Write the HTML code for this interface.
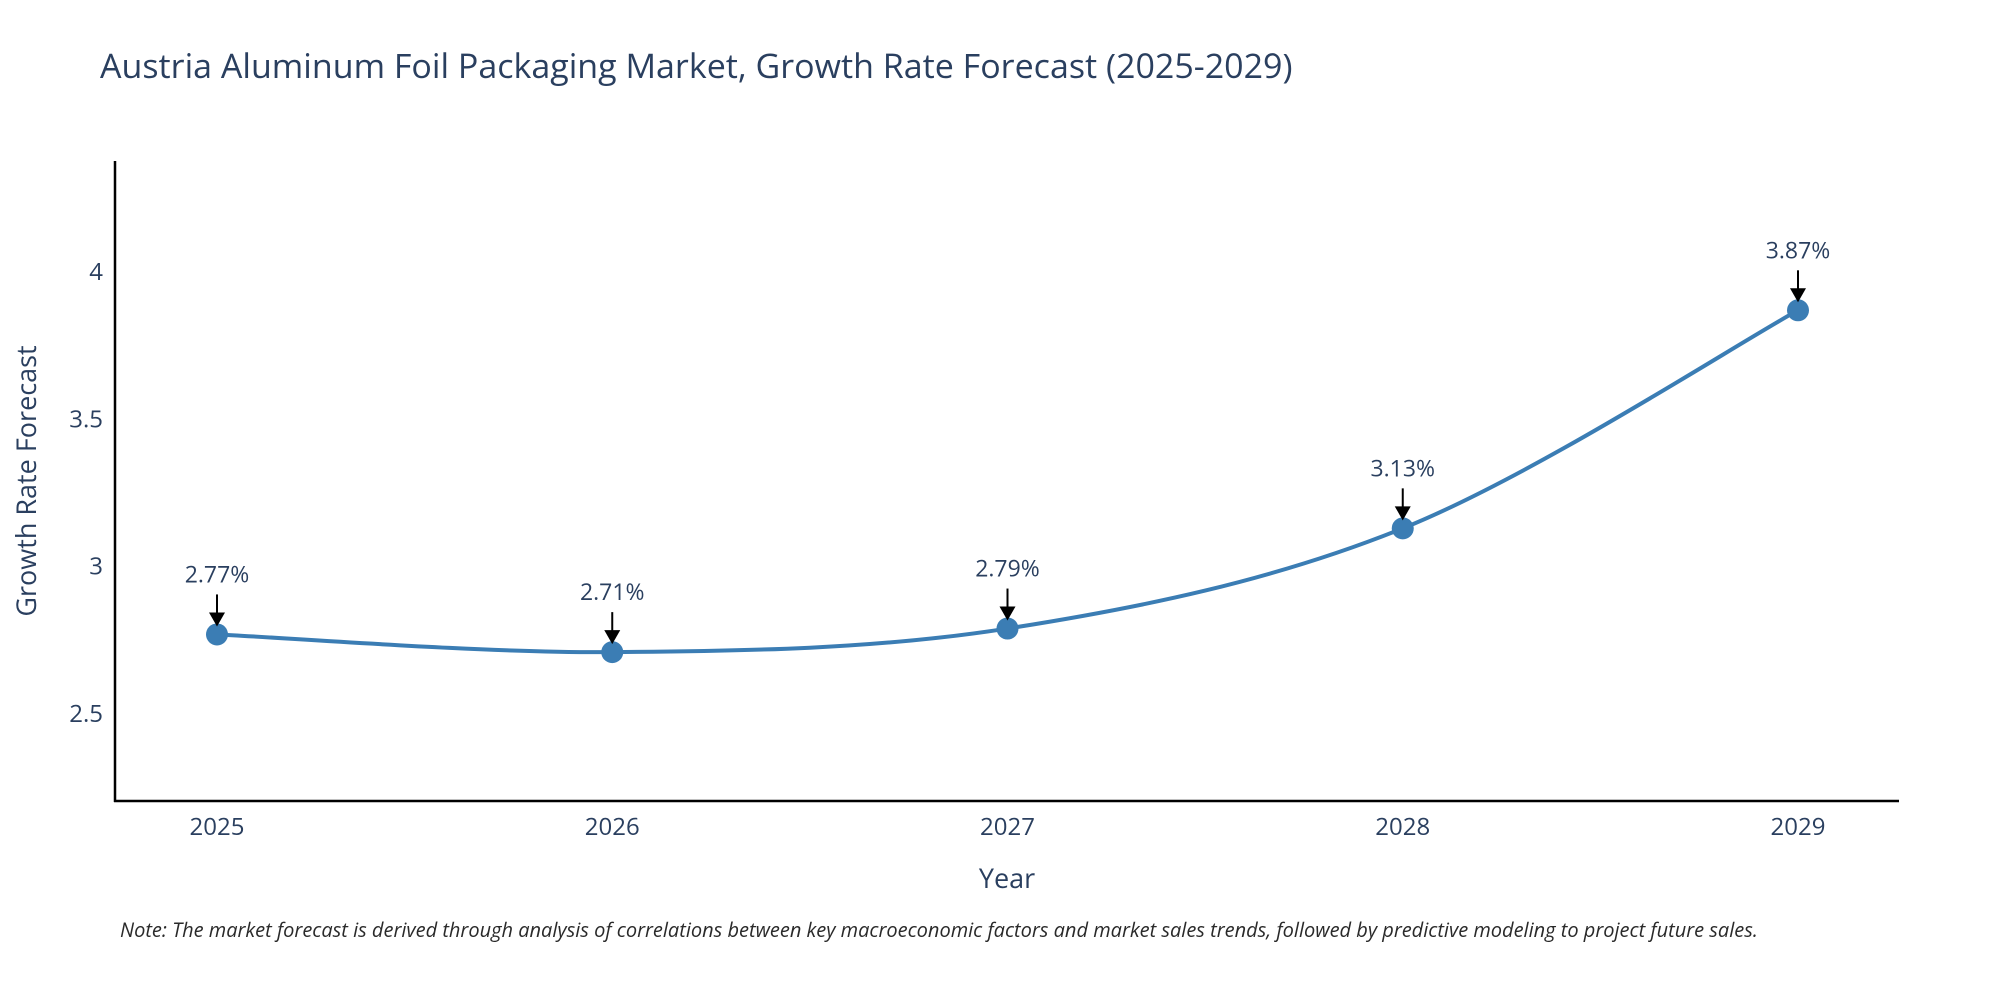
<!DOCTYPE html>
<html><head><meta charset="utf-8"><style>
body{margin:0;background:#fff;}
svg text{font-family:"Open Sans","Liberation Sans","DejaVu Sans",sans-serif;}
</style></head><body>
<svg id="chart" width="2000" height="1000" viewBox="0 0 2000 1000" xmlns="http://www.w3.org/2000/svg">
<text x="100" y="78" font-size="34" fill="#2a3f5f">Austria Aluminum Foil Packaging Market, Growth Rate Forecast (2025-2029)</text>
<g id="yticks"></g>
<g id="xticks"></g>
<line x1="115" y1="161" x2="115" y2="802" stroke="#000" stroke-width="2.5"/>
<line x1="114" y1="801" x2="1899" y2="801" stroke="#000" stroke-width="2.5"/>
<path id="line" fill="none" stroke="#3b7db4" stroke-width="4"/>
<g id="points"></g>
<g id="annots"></g>
<text x="1007" y="888" font-size="27" fill="#2a3f5f" text-anchor="middle">Year</text>
<text transform="translate(36,481) rotate(-90)" font-size="27" fill="#2a3f5f" text-anchor="middle">Growth Rate Forecast</text>
<text x="120" y="937" font-size="20" font-style="italic" fill="#2a2a2a">Note: The market forecast is derived through analysis of correlations between key macroeconomic factors and market sales trends, followed by predictive modeling to project future sales.</text>
</svg>
<script>
const years=["2025","2026","2027","2028","2029"];
const values=[2.77,2.71,2.79,3.13,3.87];
const labels=["2.77%","2.71%","2.79%","3.13%","3.87%"];
const yTicks=[2.5,3,3.5,4];
const yTickLabels=["2.5","3","3.5","4"];
const NS="http://www.w3.org/2000/svg";
function xs(i){return 217+i*(1798-217)/(years.length-1);}
function ys(v){return 714-(v-2.5)*(442/1.5);}
function mk(t,a,p){const e=document.createElementNS(NS,t);for(const k in a)e.setAttribute(k,a[k]);p.appendChild(e);return e;}
const yt=document.getElementById('yticks');
yTicks.forEach((v,i)=>{const t=mk('text',{x:103,y:ys(v)+8,'font-size':24,fill:'#2a3f5f','text-anchor':'end'},yt);


t.textContent=yTickLabels[i];});
const xt=document.getElementById('xticks');
years.forEach((y,i)=>{const t=mk('text',{x:xs(i),y:835,'font-size':24,fill:'#2a3f5f','text-anchor':'middle'},xt);


t.textContent=y;});
const P=values.map((v,i)=>[xs(i),ys(v)]);
let d=`M${P[0][0]},${P[0][1]}`;const s=0.5;
for(let i=0;i<P.length-1;i++){const p0=P[Math.max(0,i-1)],p1=P[i],p2=P[i+1],p3=P[Math.min(P.length-1,i+2)];
const c1=[p1[0]+(p2[0]-p0[0])*s/3,p1[1]+(p2[1]-p0[1])*s/3],c2=[p2[0]-(p3[0]-p1[0])*s/3,p2[1]-(p3[1]-p1[1])*s/3];
d+=` C${c1[0]},${c1[1]} ${c2[0]},${c2[1]} ${p2[0]},${p2[1]}`;}
document.getElementById('line').setAttribute('d',d);
const pg=document.getElementById('points'),ag=document.getElementById('annots');
P.forEach((p,i)=>{const c=mk('circle',{cx:p[0],cy:p[1],r:11,fill:'#3b7db4'},pg);


const l=mk('line',{x1:p[0],y1:p[1]-40,x2:p[0],y2:p[1]-20,stroke:'#000','stroke-width':2},ag);


const h=mk('polygon',{points:`${p[0]-8},${p[1]-22} ${p[0]+8},${p[1]-22} ${p[0]},${p[1]-8}`,fill:'#000'},ag);


const t=mk('text',{x:p[0],y:p[1]-52,'font-size':23,fill:'#2a3f5f','text-anchor':'middle'},ag);


t.textContent=labels[i];});
</script>
</body></html>
